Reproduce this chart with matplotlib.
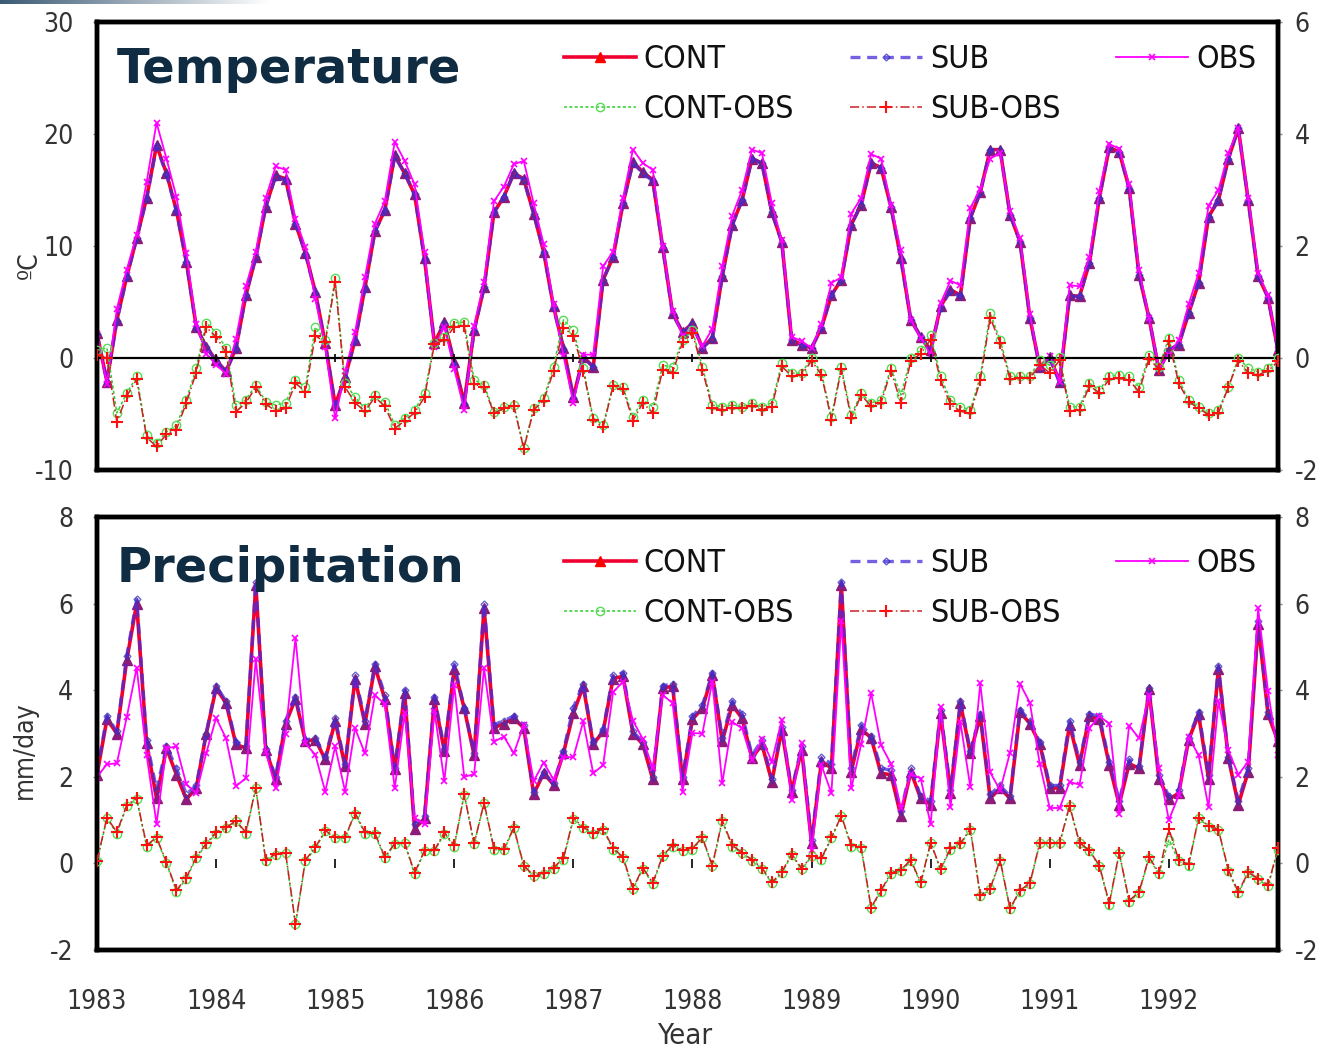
import matplotlib

matplotlib.use("Agg")
import matplotlib.pyplot as plt
import numpy as np
from matplotlib import font_manager

plt.rcParams["axes.unicode_minus"] = False

# ---- data (monthly, Jan 1983 - Dec 1992) ----
years = list(range(1983, 1993))

temp_cont = [2.2, -2.1, 3.4, 7.3, 10.7, 14.3, 19.0, 16.5, 13.2, 8.6, 2.8, 1.0,
             -0.2, -1.2, 0.9, 5.6, 9.0, 13.5, 16.3, 16.0, 12.0, 9.4, 5.9, 1.3,
             -4.2, -1.7, 1.6, 6.3, 11.3, 13.2, 18.1, 16.5, 14.6, 8.9, 1.3, 3.2,
             -0.4, -4.0, 2.5, 6.3, 13.0, 14.4, 16.5, 16.0, 12.9, 9.5, 4.6, 0.9,
             -3.5, 0.1, -0.8, 7.0, 9.0, 13.8, 17.5, 16.6, 15.9, 9.9, 4.0, 2.3,
             3.1, 0.9, 1.8, 7.3, 11.9, 14.1, 17.8, 17.4, 13.0, 10.4, 1.6, 1.2,
             0.9, 2.7, 5.6, 7.0, 11.9, 13.7, 17.4, 17.0, 13.5, 8.9, 3.4, 1.9,
             0.7, 4.6, 6.1, 5.6, 12.5, 14.8, 18.6, 18.6, 12.8, 10.4, 3.6, -0.8,
             0.1, -2.1, 5.6, 5.5, 8.5, 14.3, 18.8, 18.4, 15.2, 7.4, 3.6, -1.1,
             0.7, 1.2, 4.0, 6.7, 12.6, 14.1, 17.8, 20.5, 14.1, 7.3, 5.4, 0.7]
temp_sub = [2.1, -2.1, 3.3, 7.2, 10.7, 14.2, 18.9, 16.4, 13.1, 8.6, 2.7, 1.0,
            -0.3, -1.2, 0.8, 5.6, 9.0, 13.5, 16.2, 15.9, 12.0, 9.3, 5.8, 1.3,
            -4.2, -1.8, 1.5, 6.2, 11.3, 13.1, 18.0, 16.5, 14.6, 8.8, 1.3, 3.1,
            -0.5, -4.1, 2.4, 6.3, 13.0, 14.4, 16.5, 15.9, 12.9, 9.5, 4.5, 0.8,
            -3.6, 0.1, -0.8, 7.0, 9.0, 13.8, 17.4, 16.5, 15.8, 9.8, 3.9, 2.3,
            3.0, 0.9, 1.7, 7.3, 11.8, 14.1, 17.8, 17.4, 13.0, 10.3, 1.6, 1.2,
            0.9, 2.7, 5.6, 7.0, 11.9, 13.7, 17.4, 17.0, 13.5, 8.8, 3.4, 1.9,
            0.6, 4.5, 6.0, 5.5, 12.5, 14.8, 18.6, 18.6, 12.8, 10.4, 3.6, -0.9,
            -0.1, -2.2, 5.5, 5.5, 8.5, 14.3, 18.8, 18.4, 15.1, 7.4, 3.6, -1.1,
            0.7, 1.2, 4.0, 6.7, 12.6, 14.1, 17.8, 20.5, 14.0, 7.3, 5.4, 0.6]
temp_obs = [2.1, -2.3, 4.4, 7.9, 11.0, 15.7, 21.0, 17.8, 14.4, 9.4, 3.0, 0.4,
            -0.6, -1.4, 1.7, 6.4, 9.5, 14.3, 17.1, 16.8, 12.4, 9.9, 5.3, 1.0,
            -5.4, -1.2, 2.3, 7.2, 12.0, 14.0, 19.3, 17.6, 15.5, 9.5, 1.0, 2.8,
            -1.0, -4.6, 2.9, 6.8, 14.0, 15.3, 17.3, 17.6, 13.8, 10.2, 4.8, 0.2,
            -4.0, 0.3, 0.3, 8.2, 9.5, 14.3, 18.6, 17.4, 16.8, 10.0, 4.2, 2.0,
            2.6, 1.1, 2.6, 8.2, 12.7, 15.0, 18.6, 18.3, 13.8, 10.5, 1.9, 1.5,
            0.9, 3.0, 6.7, 7.2, 12.9, 14.3, 18.2, 17.8, 13.7, 9.6, 3.4, 1.8,
            0.3, 4.9, 6.9, 6.5, 13.4, 15.1, 17.8, 18.3, 13.1, 10.7, 3.9, -0.8,
            0.2, -2.1, 6.5, 6.4, 9.0, 14.9, 19.1, 18.7, 15.5, 7.9, 3.6, -0.9,
            0.3, 1.6, 4.8, 7.6, 13.6, 15.0, 18.3, 20.5, 14.3, 7.6, 5.6, 0.7]
temp_cont_obs = [0.14, 0.18, -0.98, -0.63, -0.33, -1.38, -1.52, -1.32, -1.2, -0.75, -0.18, 0.63,
                 0.45, 0.18, -0.84, -0.75, -0.48, -0.78, -0.84, -0.8, -0.39, -0.52, 0.55, 0.32,
                 1.43, -0.45, -0.7, -0.9, -0.66, -0.78, -1.2, -1.07, -0.93, -0.63, 0.27, 0.38,
                 0.63, 0.64, -0.39, -0.48, -0.96, -0.87, -0.84, -1.6, -0.9, -0.72, -0.16, 0.68,
                 0.5, -0.18, -1.07, -1.2, -0.48, -0.52, -1.05, -0.75, -0.87, -0.13, -0.16, 0.32,
                 0.5, -0.16, -0.84, -0.87, -0.84, -0.87, -0.8, -0.87, -0.8, -0.09, -0.27, -0.27,
                 0.0, -0.27, -1.05, -0.16, -1.02, -0.63, -0.8, -0.75, -0.18, -0.66, 0.0, 0.14,
                 0.41, -0.33, -0.75, -0.87, -0.93, -0.33, 0.8, 0.32, -0.33, -0.33, -0.33, -0.04,
                 -0.13, 0.02, -0.87, -0.87, -0.45, -0.57, -0.33, -0.3, -0.33, -0.52, 0.05, -0.16,
                 0.36, -0.39, -0.75, -0.87, -0.98, -0.93, -0.52, 0.0, -0.18, -0.25, -0.18, 0.0]
temp_sub_obs = [0.05, 0.0, -1.14, -0.68, -0.38, -1.42, -1.58, -1.36, -1.28, -0.8, -0.26, 0.55,
                0.38, 0.1, -0.96, -0.8, -0.52, -0.82, -0.95, -0.9, -0.45, -0.6, 0.4, 0.28,
                1.36, -0.52, -0.8, -0.95, -0.7, -0.86, -1.26, -1.12, -0.98, -0.7, 0.25, 0.32,
                0.56, 0.57, -0.47, -0.52, -0.99, -0.9, -0.86, -1.62, -0.93, -0.76, -0.24, 0.54,
                0.4, -0.23, -1.1, -1.24, -0.5, -0.55, -1.12, -0.8, -0.98, -0.21, -0.26, 0.28,
                0.45, -0.21, -0.9, -0.92, -0.9, -0.9, -0.85, -0.92, -0.87, -0.15, -0.32, -0.3,
                -0.05, -0.3, -1.1, -0.2, -1.08, -0.66, -0.86, -0.8, -0.23, -0.8, -0.06, 0.08,
                0.33, -0.4, -0.83, -0.95, -0.99, -0.4, 0.72, 0.27, -0.38, -0.36, -0.36, -0.12,
                -0.27, -0.04, -0.95, -0.93, -0.5, -0.62, -0.38, -0.36, -0.4, -0.6, -0.01, -0.2,
                0.3, -0.45, -0.78, -0.9, -1.01, -0.98, -0.52, -0.05, -0.26, -0.3, -0.23, -0.06]

prec_cont = [2.05, 3.33, 3.0, 4.7, 6.0, 2.77, 1.5, 2.66, 2.05, 1.48, 1.74, 2.98,
             4.05, 3.7, 2.75, 2.66, 6.44, 2.63, 1.94, 3.23, 3.8, 2.82, 2.86, 2.4,
             3.28, 2.24, 4.27, 3.23, 4.55, 3.8, 2.17, 3.93, 0.8, 1.04, 3.8, 2.59,
             4.5, 3.58, 2.5, 5.9, 3.13, 3.23, 3.35, 3.13, 1.6, 2.08, 1.82, 2.55,
             3.47, 4.09, 2.75, 3.05, 4.27, 4.32, 3.0, 2.75, 1.94, 4.05, 4.09, 1.94,
             3.33, 3.58, 4.36, 2.82, 3.66, 3.35, 2.43, 2.75, 1.89, 3.09, 1.66, 2.63,
             0.46, 2.36, 2.2, 6.44, 2.12, 3.1, 2.9, 2.08, 2.05, 1.1, 2.12, 1.5,
             1.36, 3.47, 1.62, 3.7, 2.54, 3.4, 1.5, 1.74, 1.5, 3.5, 3.23, 2.75,
             1.74, 1.74, 3.2, 2.28, 3.4, 3.33, 2.28, 1.36, 2.3, 2.2, 4.02, 1.96,
             1.48, 1.62, 2.86, 3.44, 1.96, 4.5, 2.43, 1.36, 2.12, 5.52, 3.44, 2.82]
prec_sub = [2.1, 3.4, 3.05, 4.8, 6.1, 2.85, 1.7, 2.7, 2.2, 1.6, 1.8, 3.0,
            4.1, 3.75, 2.8, 2.7, 6.5, 2.65, 2.0, 3.3, 3.85, 2.85, 2.9, 2.45,
            3.35, 2.3, 4.35, 3.3, 4.6, 3.9, 2.2, 4.0, 0.9, 1.1, 3.85, 2.65,
            4.6, 3.6, 2.55, 6.0, 3.2, 3.3, 3.4, 3.2, 1.65, 2.1, 1.85, 2.6,
            3.6, 4.15, 2.8, 3.1, 4.35, 4.4, 3.05, 2.8, 2.0, 4.1, 4.15, 2.0,
            3.4, 3.65, 4.4, 2.9, 3.75, 3.45, 2.5, 2.85, 1.95, 3.15, 1.7, 2.7,
            0.55, 2.45, 2.3, 6.5, 2.2, 3.2, 2.95, 2.2, 2.15, 1.2, 2.2, 1.55,
            1.45, 3.55, 1.7, 3.75, 2.6, 3.45, 1.6, 1.8, 1.55, 3.55, 3.3, 2.8,
            1.8, 1.8, 3.3, 2.35, 3.45, 3.4, 2.35, 1.45, 2.4, 2.25, 4.05, 2.05,
            1.55, 1.7, 2.9, 3.5, 2.05, 4.55, 2.45, 1.45, 2.2, 5.6, 3.5, 2.85]
prec_obs = [2.0, 2.29, 2.31, 3.38, 4.52, 2.5, 0.92, 2.66, 2.7, 1.83, 1.62, 2.54,
            3.36, 2.89, 1.78, 1.97, 4.71, 2.58, 1.74, 3.0, 5.21, 2.77, 2.51, 1.66,
            2.7, 1.66, 3.12, 2.54, 3.88, 3.68, 1.73, 3.47, 1.05, 0.9, 3.52, 1.9,
            4.11, 2.0, 2.06, 4.51, 2.81, 2.93, 2.54, 3.2, 1.9, 2.33, 1.94, 2.46,
            2.45, 3.28, 2.08, 2.27, 3.95, 4.2, 3.3, 2.87, 2.2, 3.89, 3.7, 1.66,
            3.01, 3.0, 4.2, 1.85, 3.27, 3.12, 2.38, 2.87, 2.35, 3.32, 1.46, 2.77,
            0.3, 2.27, 1.62, 5.6, 1.73, 2.75, 3.94, 2.73, 2.3, 1.28, 2.07, 1.96,
            0.9, 3.61, 1.3, 3.26, 1.76, 4.16, 2.1, 1.69, 2.56, 4.15, 3.71, 2.29,
            1.28, 1.28, 1.88, 1.82, 3.12, 3.4, 3.23, 1.13, 3.18, 2.89, 3.9, 2.21,
            1.0, 1.57, 2.91, 2.5, 1.3, 3.74, 2.61, 2.05, 2.35, 5.89, 3.97, 2.5]
prec_cont_obs = [0.05, 1.04, 0.69, 1.32, 1.48, 0.39, 0.58, 0.0, -0.65, -0.35, 0.12, 0.44,
                 0.69, 0.81, 0.97, 0.69, 1.73, 0.05, 0.2, 0.23, -1.41, 0.05, 0.35, 0.74,
                 0.58, 0.58, 1.15, 0.69, 0.67, 0.12, 0.44, 0.46, -0.25, 0.28, 0.28, 0.69,
                 0.39, 1.59, 0.44, 1.39, 0.32, 0.3, 0.81, -0.07, -0.3, -0.25, -0.12, 0.09,
                 1.02, 0.81, 0.67, 0.78, 0.32, 0.12, -0.6, -0.12, -0.48, 0.16, 0.39, 0.28,
                 0.32, 0.58, -0.07, 0.97, 0.39, 0.23, 0.05, -0.12, -0.46, -0.23, 0.2, -0.14,
                 0.16, 0.09, 0.58, 1.09, 0.39, 0.35, -1.04, -0.65, -0.25, -0.18, 0.05, -0.46,
                 0.46, -0.14, 0.32, 0.44, 0.78, -0.76, -0.6, 0.05, -1.06, -0.65, -0.48, 0.46,
                 0.46, 0.46, 1.32, 0.46, 0.28, -0.07, -0.95, 0.23, -0.88, -0.69, 0.12, -0.25,
                 0.55, 0.05, -0.05, 1.04, 0.85, 0.76, -0.18, -0.69, -0.23, -0.37, -0.53, 0.32]
prec_sub_obs = [0.05, 1.06, 0.72, 1.35, 1.5, 0.42, 0.6, 0.03, -0.62, -0.33, 0.15, 0.46,
                0.72, 0.83, 0.98, 0.72, 1.75, 0.08, 0.22, 0.25, -1.4, 0.08, 0.37, 0.76,
                0.6, 0.6, 1.17, 0.72, 0.7, 0.15, 0.46, 0.48, -0.22, 0.3, 0.3, 0.72,
                0.42, 1.6, 0.46, 1.4, 0.35, 0.33, 0.83, -0.05, -0.28, -0.22, -0.1, 0.12,
                1.05, 0.83, 0.7, 0.8, 0.35, 0.15, -0.58, -0.1, -0.45, 0.18, 0.42, 0.3,
                0.35, 0.6, -0.05, 1.0, 0.42, 0.25, 0.08, -0.1, -0.44, -0.2, 0.22, -0.12,
                0.18, 0.12, 0.6, 1.1, 0.42, 0.38, -1.02, -0.62, -0.22, -0.15, 0.08, -0.44,
                0.48, -0.12, 0.35, 0.46, 0.8, -0.74, -0.58, 0.08, -1.04, -0.62, -0.46, 0.48,
                0.48, 0.48, 1.33, 0.48, 0.3, -0.05, -0.92, 0.25, -0.86, -0.66, 0.15, -0.22,
                0.8, 0.08, -0.02, 1.06, 0.87, 0.78, -0.15, -0.66, -0.2, -0.35, -0.5, 0.35]

x = years[0] + np.arange(len(temp_cont)) / 12.0

TICK_COLOR = "#333333"
# narrow face for axis text
NARROW = font_manager.FontProperties(family="DejaVu Sans", stretch="condensed")


def narrow(size):
    p = NARROW.copy()
    p.set_size(size)
    return p


fig = plt.figure(figsize=(13.28, 10.52), dpi=100)

# slide decoration at the top-left corner
deco = fig.add_axes([0, 1 - 4 / 1052, 270 / 1328, 4 / 1052])
deco.imshow(np.linspace(0, 1, 256)[None, :], aspect="auto",
            cmap=matplotlib.colors.LinearSegmentedColormap.from_list("g", ["#3b5a74", "#ffffff"]))
deco.axis("off")


def draw_panel(rect, cont, sub, obs, cont_obs, sub_obs, ylim, ylim2, yticks, yticks2, title, title_y, leg_y):
    ax = fig.add_axes(rect)
    ax2 = ax.twinx()
    ax.plot(x, cont, color="#f00030", lw=2.6, marker="^", ms=7, mfc="#8c1c78", mec="#8c1c78", label="CONT", zorder=3)
    ax.plot(x, sub, color="#4a2ad8", lw=2.4, ls=(0, (3, 2)), marker="D", ms=3.5, mfc="none", mec="#3030c0",
            alpha=0.75, label="SUB", zorder=4)
    ax.plot(x, obs, color="#ff00ff", lw=1.3, marker="x", ms=5, mew=1.2, label="OBS", zorder=5)

    ax2.plot(x, cont_obs, color="#33cc33", lw=1.1, ls=(0, (2, 1.5)), marker="o", ms=6, mfc="none", mec="#55dd55",
             label="CONT-OBS", zorder=3)
    ax2.plot(x, sub_obs, color="#cc2020", lw=1.1, ls=(0, (6, 2, 1, 2)), marker="+", ms=8, mew=1.5, mec="#ff1010",
             label="SUB-OBS", zorder=4)
    # small year marks where the category axis crosses zero
    tick_h = 0.01 * (ylim2[1] - ylim2[0])
    ax2.vlines(years[1:], -tick_h, tick_h, color="black", lw=1.2, zorder=2)

    ax.set_xlim(x[0], x[-1])
    ax.set_ylim(*ylim)
    ax2.set_ylim(*ylim2)
    ax.set_yticks(yticks)
    ax2.set_yticks(yticks2)
    ax.set_xticks(years)
    for a, pad in ((ax, 14), (ax2, 9)):
        for s in a.spines.values():
            s.set_linewidth(3.2)
            s.set_color("black")
        a.tick_params(axis="y", length=3, width=1, colors="#888888", labelcolor=TICK_COLOR, pad=pad)
        for lab in a.get_yticklabels():
            lab.set_fontproperties(narrow(19))
    ax.tick_params(axis="x", length=0, labelcolor=TICK_COLOR, pad=28)
    ax.set_xticklabels([str(y) for y in years], fontproperties=narrow(19))

    ax.text(0.017, title_y, title, transform=ax.transAxes, fontsize=34.5, fontweight="bold",
            color="#0f2c42", family="DejaVu Sans", va="center", ha="left", zorder=10)

    h1, l1 = ax.get_legend_handles_labels()
    h2, l2 = ax2.get_legend_handles_labels()
    handles = [h1[0], h2[0], h1[1], h2[1], h1[2]]
    labels = [l1[0], l2[0], l1[1], l2[1], l1[2]]
    leg = ax2.legend(handles, labels, ncol=3, loc="upper left", bbox_to_anchor=(0.371, leg_y),
                     frameon=False, handlelength=2.25, handletextpad=0.25, columnspacing=1.75,
                     labelspacing=0.6, prop=narrow(23))
    for t in leg.get_texts():
        t.set_color("#111111")
    # the legend shows CONT as a plain red line with red triangles
    cont_handle = leg.legend_handles[0]
    cont_handle.set_markerfacecolor("#ff0000")
    cont_handle.set_markeredgecolor("#ff0000")
    return ax, ax2


ax_t, ax_t2 = draw_panel([97 / 1328, 1 - 470 / 1052, 1181 / 1328, 448 / 1052],
                         temp_cont, temp_sub, temp_obs, temp_cont_obs, temp_sub_obs,
                         (-10, 30), (-2, 6), [-10, 0, 10, 20, 30], [-2, 0, 2, 4, 6],
                         "Temperature", 0.895, 1.015)
ax_t2.axhline(0, color="black", lw=1.6, zorder=2)
ax_t.set_xticklabels([])

ax_p, ax_p2 = draw_panel([97 / 1328, 1 - 950 / 1052, 1181 / 1328, 433 / 1052],
                         prec_cont, prec_sub, prec_obs, prec_cont_obs, prec_sub_obs,
                         (-2, 8), (-2, 8), [-2, 0, 2, 4, 6, 8], [-2, 0, 2, 4, 6, 8],
                         "Precipitation", 0.882, 0.995)

fig.text(30 / 1328, 1 - 265 / 1052, "ºC", rotation=90, ha="center", va="center",
         fontproperties=narrow(19), color=TICK_COLOR)
fig.text(25 / 1328, 1 - 750 / 1052, "mm/day", rotation=90, ha="center", va="center",
         fontproperties=narrow(19), color=TICK_COLOR)
fig.text(685 / 1328, 1 - 1036 / 1052, "Year", ha="center", va="center",
         fontproperties=narrow(21), color=TICK_COLOR)

fig.savefig("out.png", dpi=100)
